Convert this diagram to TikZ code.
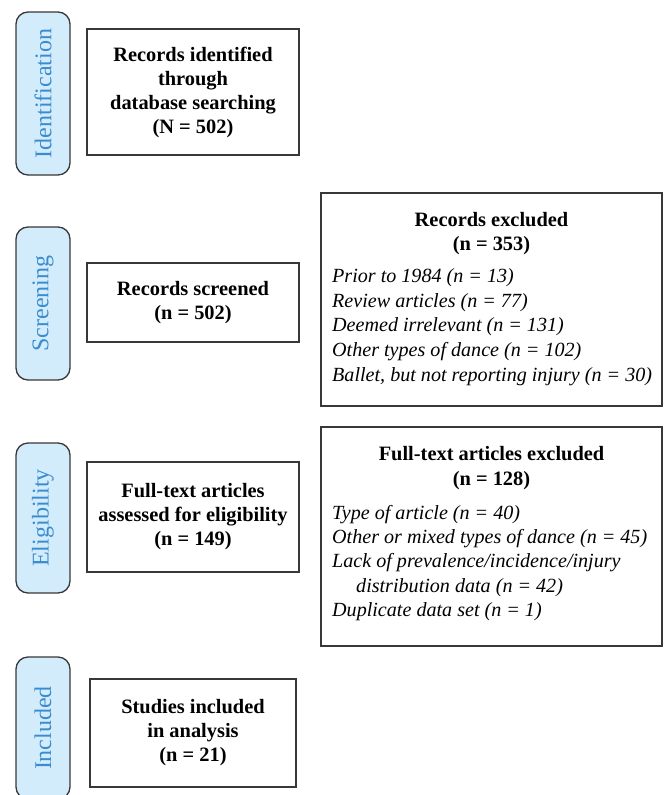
\documentclass[tikz,border=0pt]{standalone}
\usepackage{fontspec}
\setmainfont{Liberation Serif}
\definecolor{tabfill}{HTML}{D3ECFB}
\definecolor{tabtext}{HTML}{3A8CCF}
\definecolor{edge}{HTML}{383838}
\tikzset{
  tabbox/.style={draw=edge, line width=1.3pt, fill=tabfill, rounded corners=12pt,
    text=tabtext, font=\fontsize{24}{26}\selectfont, inner sep=0pt, rotate=90},
  mainbox/.style={draw=edge, line width=1.5pt, align=center, inner sep=0pt,
    font=\fontsize{20.4}{24}\selectfont\bfseries},
  exbox/.style={draw=edge, line width=1.5pt, inner sep=0pt},
  exhead/.style={anchor=base, inner sep=0pt, font=\fontsize{20.4}{24}\selectfont\bfseries},
  exitem/.style={anchor=base west, inner sep=0pt, font=\fontsize{20.1}{24}\selectfont\itshape}
}
\begin{document}
\begin{tikzpicture}[x=1pt,y=-1pt]
\clip (0,0) rectangle (668,795);
\useasboundingbox (0,0) rectangle (668,795);
\fill[white] (0,0) rectangle (668,795);

% phase tabs
\node[tabbox, minimum width=163pt, minimum height=54pt] (tabI) at (43,93.5) {Identification};
\node[tabbox, minimum width=153pt, minimum height=54pt] (tabS) at (43,303.5) {Screening};
\node[tabbox, minimum width=150pt, minimum height=54pt] (tabE) at (43,518) {Eligibility};
\node[tabbox, minimum width=142pt, minimum height=54pt] (tabN) at (43,728) {Included};

% main column
\node[mainbox, minimum width=212pt, minimum height=126pt] (ident) at (193,92)
  {Records identified\\through\\database searching\\(N = 502)};
\node[mainbox, minimum width=212pt, minimum height=79pt] (screen) at (193,302.5)
  {Records screened\\(n = 502)};
\node[mainbox, minimum width=212pt, minimum height=110pt] (elig) at (193,517)
  {Full-text articles\\assessed for eligibility\\(n = 149)};
\node[mainbox, minimum width=206pt, minimum height=108pt] (incl) at (193,733)
  {Studies included\\in analysis\\(n = 21)};

% records excluded
\node[exbox, minimum width=341pt, minimum height=213pt] (ex1) at (491.5,299.5) {};
\node[exhead] (ex1h1) at (491.5,226.7) {Records excluded};
\node[exhead] (ex1h2) at (491.5,250.7) {(n = 353)};
\node[exitem] (ex1a) at (332,282.7) {Prior to 1984 (n = 13)};
\node[exitem] (ex1b) at (332,307.3) {Review articles (n = 77)};
\node[exitem] (ex1c) at (332,331.8) {Deemed irrelevant (n = 131)};
\node[exitem] (ex1d) at (332,356.6) {Other types of dance (n = 102)};
\node[exitem] (ex1e) at (332,381.4) {Ballet, but not reporting injury (n = 30)};

% full-text excluded
\node[exbox, minimum width=341pt, minimum height=219pt] (ex2) at (491.5,536.5) {};
\node[exhead] (ex2h1) at (491.5,460.7) {Full-text articles excluded};
\node[exhead] (ex2h2) at (491.5,485) {(n = 128)};
\node[exitem] (ex2a) at (332,519) {Type of article (n = 40)};
\node[exitem] (ex2b) at (332,543.3) {Other or mixed types of dance (n = 45)};
\node[exitem] (ex2c) at (332,567.6) {Lack of prevalence/incidence/injury};
\node[exitem] (ex2d) at (356,592) {distribution data (n = 42)};
\node[exitem] (ex2e) at (332,616.5) {Duplicate data set (n = 1)};
\end{tikzpicture}
\end{document}
